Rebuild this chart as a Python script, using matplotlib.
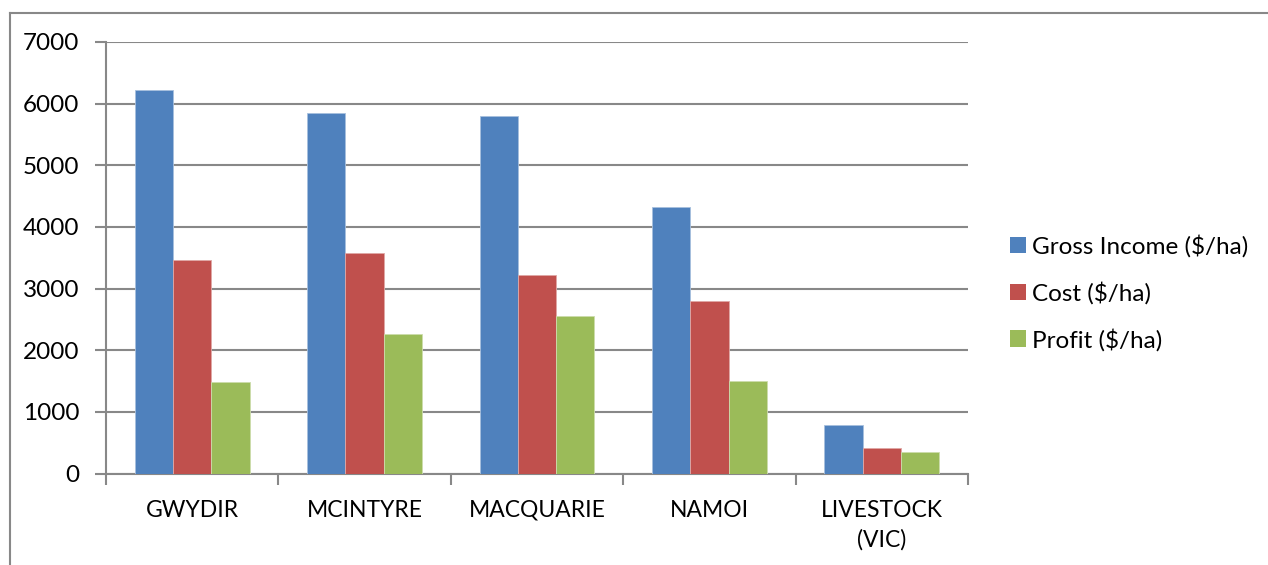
import matplotlib

matplotlib.use("Agg")
import matplotlib.pyplot as plt
import numpy as np
from matplotlib.lines import Line2D
from matplotlib.patches import Patch

regions = ["GWYDIR", "MCINTYRE", "MACQUARIE", "NAMOI", "LIVESTOCK\n(VIC)"]
gross_income = [6220, 5855, 5800, 4325, 785]
cost = [3470, 3580, 3225, 2805, 415]
profit = [1480, 2260, 2555, 1500, 350]
series_names = ["Gross Income ($/ha)", "Cost ($/ha)", "Profit ($/ha)"]
y_ticks = [0, 1000, 2000, 3000, 4000, 5000, 6000, 7000]

colors = ["#4F81BD", "#C0504D", "#9BBB59"]
edges = ["#A7C0DE", "#E0A8A6", "#CDDDAC"]
grid_c = "#888888"

plt.rcParams["font.family"] = ["Lato", "DejaVu Sans"]
plt.rcParams["font.size"] = 16

W, H = 1268, 565
fig = plt.figure(figsize=(W / 100, H / 100), dpi=100)
ax = fig.add_axes([106 / W, (H - 473.5) / H, (968 - 106) / W, (473.5 - 42) / H])

# outer chart-area frame (top and left edges only visible)
fig.add_artist(Line2D([10 / W, 1], [1 - 13 / H, 1 - 13 / H], transform=fig.transFigure,
                      color=grid_c, lw=1.5))
fig.add_artist(Line2D([10 / W, 10 / W], [0, 1 - 13 / H], transform=fig.transFigure,
                      color=grid_c, lw=1.5))

x = np.arange(len(regions))
bw = 1 / (3 + 1.5)
for i, vals in enumerate([gross_income, cost, profit]):
    ax.bar(x + (i - 1) * bw, vals, width=bw, color=colors[i], edgecolor=edges[i],
           linewidth=0.6, zorder=3, label=series_names[i])

ax.set_xlim(-0.5, len(regions) - 0.5)
ax.set_ylim(0, 7000)
ax.set_yticks(y_ticks)
ax.yaxis.grid(True, color=grid_c, lw=1.5, zorder=0)
ax.tick_params(axis="y", length=8, width=1.5, color=grid_c, pad=11, labelsize=17.5)

ax.set_xticks(np.arange(len(regions) + 1) - 0.5)
ax.set_xticklabels([])
ax.set_xticks(x, minor=True)
ax.set_xticklabels(regions, minor=True, fontsize=16.5, linespacing=1.45)
ax.tick_params(axis="x", which="major", length=8, width=1.5, color=grid_c)
ax.tick_params(axis="x", which="minor", length=0, pad=19)

for side in ["top", "right"]:
    ax.spines[side].set_visible(False)
for side in ["left", "bottom"]:
    ax.spines[side].set_color(grid_c)
    ax.spines[side].set_linewidth(1.5)

handles = [Patch(facecolor=c, edgecolor="none") for c in colors]
fig.legend(handles, series_names, loc="center left",
           bbox_to_anchor=(988 / W, 1 - 293 / H), frameon=False,
           handlelength=0.66, handleheight=0.66, handletextpad=0.25,
           labelspacing=0.98, fontsize=17.5)

fig.savefig("out.png", dpi=100, facecolor="white")
